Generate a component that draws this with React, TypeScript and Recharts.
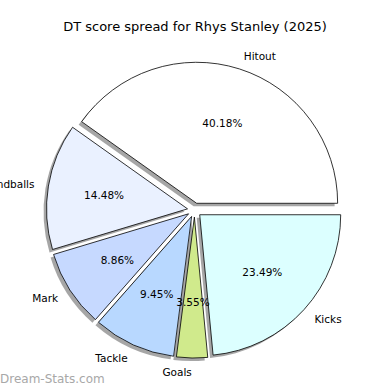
import { PieChart, Pie, Cell, Sector } from 'recharts'

const categories = ['Hitout', 'Handballs', 'Mark', 'Tackle', 'Goals', 'Kicks']
const shares = [40.18, 14.48, 8.86, 9.45, 3.55, 23.49]
const sliceColors = ['#ffffff', '#eaf1ff', '#c6d9ff', '#b8d8ff', '#d0ea8c', '#dcffff']
const explode = [0.05, 0.05, 0.05, 0.05, 0.05, 0.05]

const data = categories.map((name, i) => ({ name, value: shares[i], explode: explode[i] }))

const RADIAN = Math.PI / 180
const FONT = '"DejaVu Sans", sans-serif'

const CX = 194.5
const CY = 210
const R = 141

// shift each wedge outwards along its mid angle (like matplotlib's explode)
function offsetOf(props: any) {
  const d = (props.payload?.explode ?? props.explode ?? 0.05) * props.outerRadius
  return {
    dx: d * Math.cos(-props.midAngle * RADIAN),
    dy: d * Math.sin(-props.midAngle * RADIAN)
  }
}

const explodedSlice = (props: any) => {
  const { dx, dy } = offsetOf(props)
  return (
    <Sector
      cx={props.cx + dx}
      cy={props.cy + dy}
      innerRadius={0}
      outerRadius={props.outerRadius}
      startAngle={props.startAngle}
      endAngle={props.endAngle}
      fill={props.fill}
      fillOpacity={props.fillOpacity}
      stroke={props.stroke}
      strokeWidth={props.strokeWidth}
    />
  )
}

const renderLabel = (props: any) => {
  const { dx, dy } = offsetOf(props)
  const cx = props.cx + dx
  const cy = props.cy + dy
  const cos = Math.cos(-props.midAngle * RADIAN)
  const sin = Math.sin(-props.midAngle * RADIAN)
  const lx = cx + props.outerRadius * 1.1 * cos
  const ly = cy + props.outerRadius * 1.1 * sin
  const px = cx + props.outerRadius * 0.6 * cos
  const py = cy + props.outerRadius * 0.6 * sin
  return (
    <g>
      <text x={lx} y={ly} textAnchor={cos >= 0 ? 'start' : 'end'} dominantBaseline="central"
        fontSize={10.5} fontFamily={FONT} fill="#000">
        {props.name}
      </text>
      <text x={px} y={py} textAnchor="middle" dominantBaseline="central"
        fontSize={10.5} fontFamily={FONT} fill="#000">
        {props.value.toFixed(2)}%
      </text>
    </g>
  )
}

export default function App() {
  return (
    <div style={{ position: 'absolute', left: 0, top: 0, width: 390, height: 390, background: '#fff' }}>
      <PieChart width={390} height={390} margin={{ top: 0, right: 0, bottom: 0, left: 0 }}>
        <text x={195} y={26} textAnchor="middle" dominantBaseline="central"
          fontSize={13} fontFamily={FONT} fill="#000">
          DT score spread for Rhys Stanley (2025)
        </text>
        {/* shadow layer */}
        <Pie
          data={data}
          dataKey="value"
          nameKey="name"
          cx={CX - 3}
          cy={CY + 3}
          outerRadius={R}
          startAngle={0}
          endAngle={360}
          stroke="none"
          fill="#4d4d4d"
          fillOpacity={0.5}
          shape={explodedSlice}
          activeShape={explodedSlice}
          inactiveShape={explodedSlice}
          isAnimationActive={false}
          label={false}
          labelLine={false}
        />
        <Pie
          data={data}
          dataKey="value"
          nameKey="name"
          cx={CX}
          cy={CY}
          outerRadius={R}
          startAngle={0}
          endAngle={360}
          stroke="#000"
          strokeWidth={0.8}
          shape={explodedSlice}
          activeShape={explodedSlice}
          inactiveShape={explodedSlice}
          isAnimationActive={false}
          label={renderLabel}
          labelLine={false}
        >
          {data.map((d, i) => (
            <Cell key={d.name} fill={sliceColors[i]} />
          ))}
        </Pie>
      </PieChart>
      <div style={{ position: 'absolute', left: 0, top: 372, fontFamily: FONT, fontSize: 12, color: '#a8a8a8' }}>
        Dream-Stats.com
      </div>
    </div>
  )
}
